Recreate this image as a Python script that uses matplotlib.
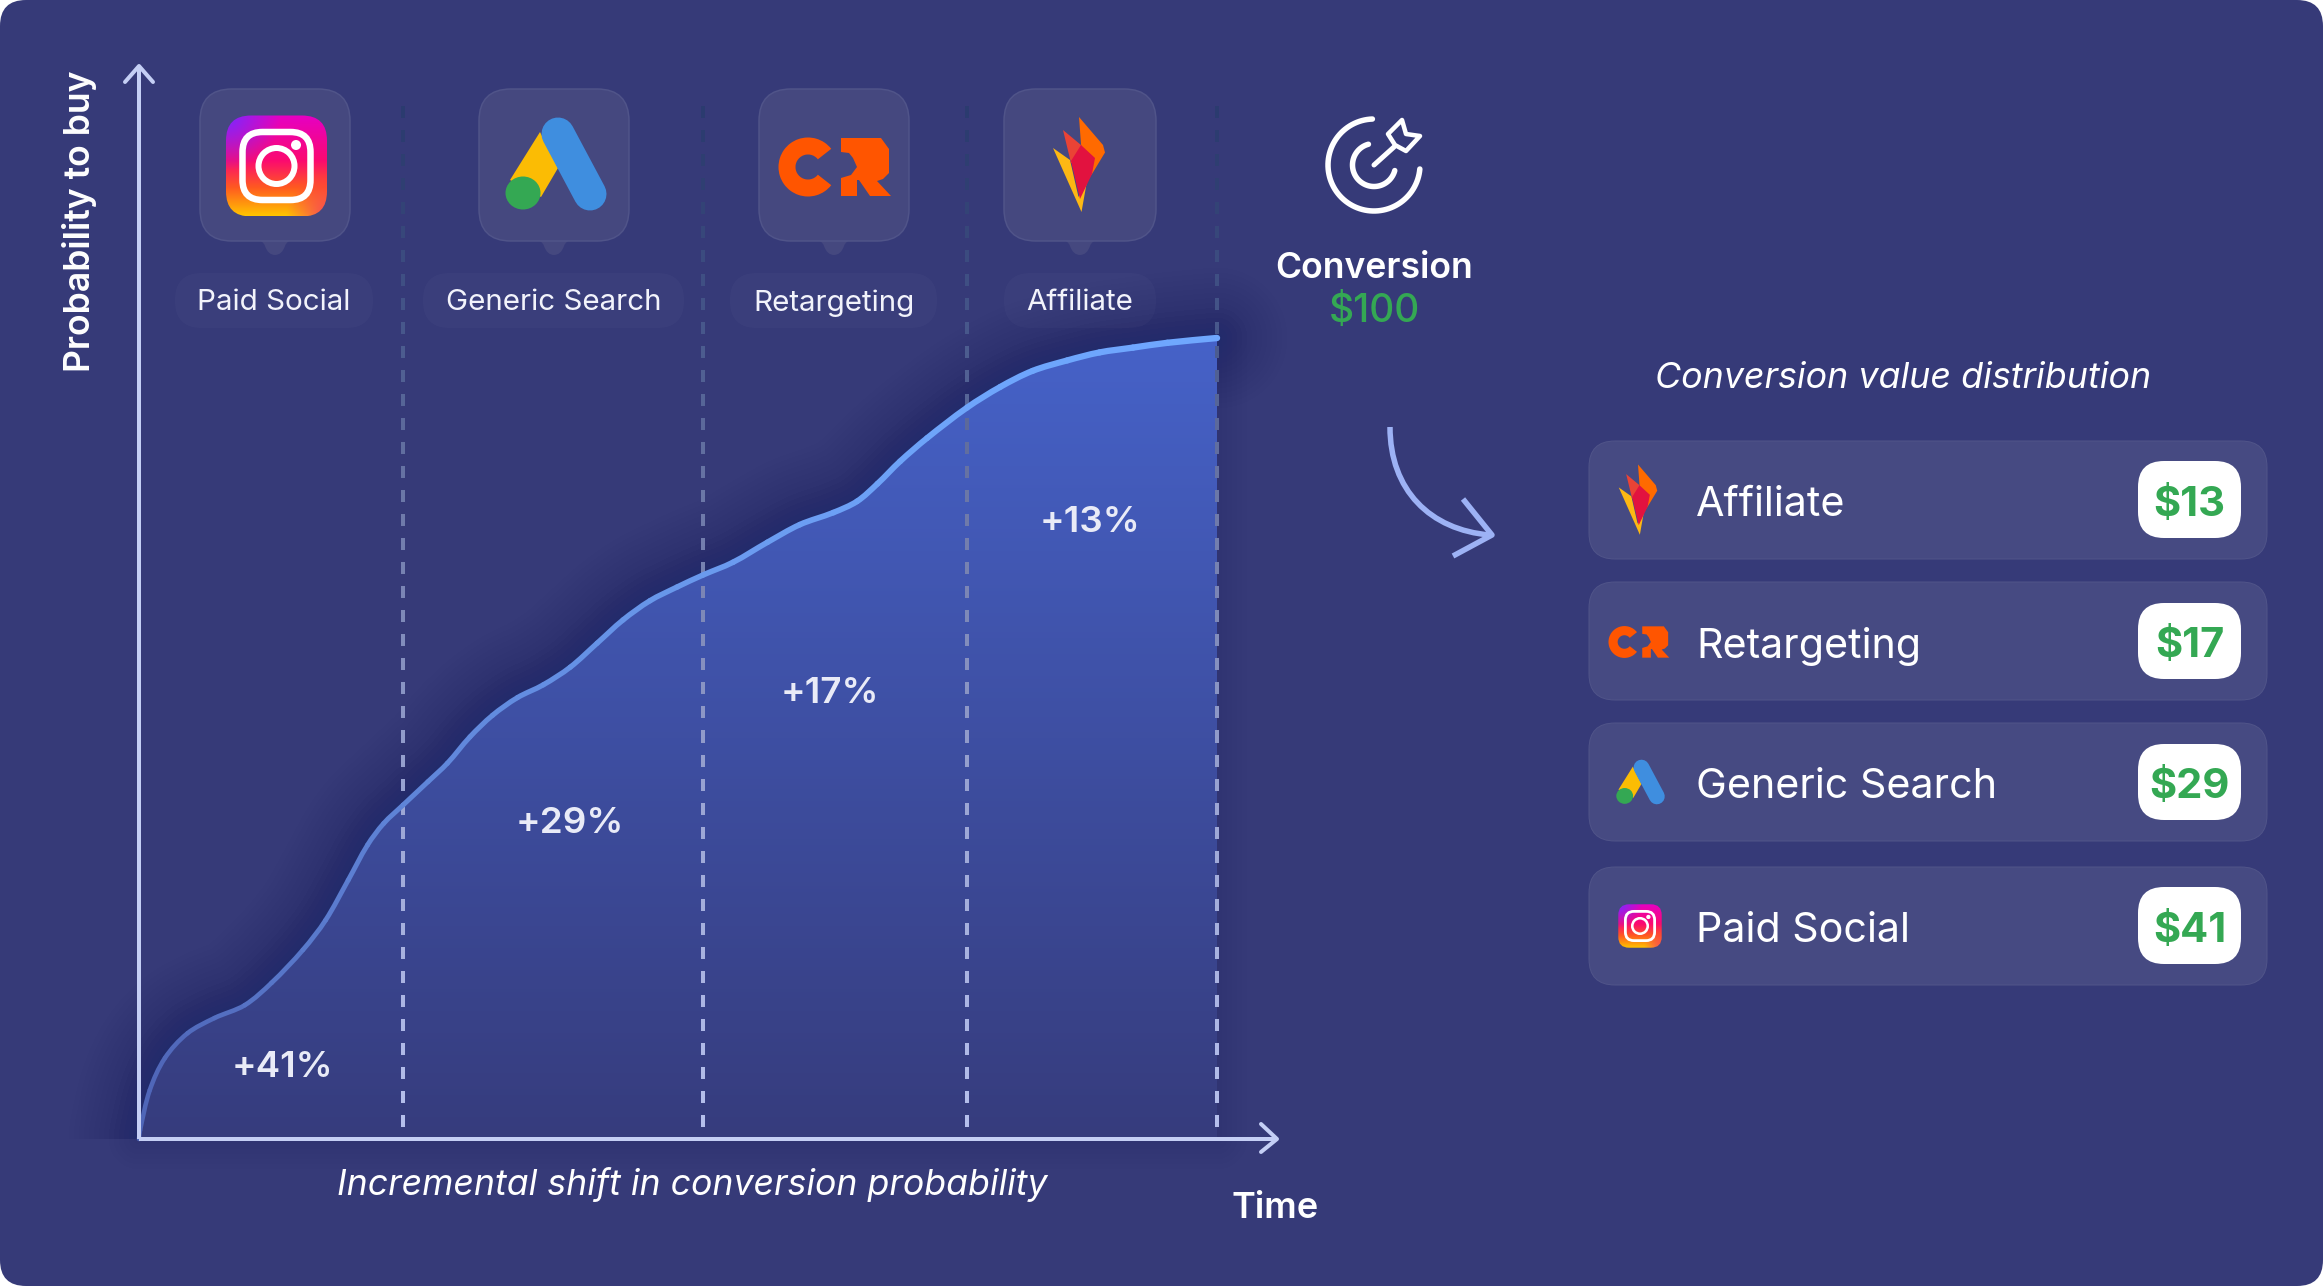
import numpy as np
import matplotlib
matplotlib.use('Agg')
import matplotlib.pyplot as plt
import matplotlib.colors as mcolors
from matplotlib.collections import LineCollection
from matplotlib.patches import Circle, Ellipse, FancyBboxPatch, PathPatch, Polygon, Rectangle, Wedge
from matplotlib.path import Path

W, H = 2323, 1286
DPI = 100

plt.rcParams['font.family'] = ['Inter', 'Noto Sans', 'DejaVu Sans']

# data
time_pct = [0, 0.1, 1.0, 2.4, 4.5, 7.0, 9.8, 12.3, 15.2, 17.3, 19.4, 21.2, 22.7, 24.5, 26.8, 28.6, 30.7, 32.8,
            35.1, 37.5, 40.0, 42.5, 44.9, 47.4, 49.9, 52.3, 55.1, 58.3, 61.3, 64.4, 66.6, 68.5, 70.6, 73.1,
            76.8, 79.9, 82.9, 86.1, 89.1, 92.2, 95.4, 100]
prob_pct = [0, 1.1, 6.1, 10.1, 13.2, 15.1, 16.7, 19.5, 23.6, 27.3, 32.3, 36.7, 39.4, 41.7, 44.6, 46.9, 50.2, 52.9,
            55.1, 56.7, 58.9, 61.9, 64.8, 67.2, 68.9, 70.4, 72.0, 74.5, 76.7, 78.2, 79.6, 81.8, 84.6, 87.5,
            91.3, 93.9, 95.9, 97.2, 98.2, 98.8, 99.4, 100]
divider_time = [24.5, 52.3, 76.8, 100]

touchpoints = ['Paid Social', 'Generic Search', 'Retargeting', 'Affiliate']
shift_labels = ['+41%', '+29%', '+17%', '+13%']
shift_time = [13.3, 40.0, 64.1, 88.2]
shift_prob = [8.95, 39.45, 55.65, 76.95]

dist_channels = ['Affiliate', 'Retargeting', 'Generic Search', 'Paid Social']
dist_values = [13, 17, 29, 41]

BG = '#363a78'
CARD = '#45487f'
CARD_EDGE = '#505489'
ROW = '#464a82'
GREEN = '#34a853'
AXIS = '#c5cff5'
ARROW = '#9db2f5'
ORANGE_CR = '#ff5500'


def px(v):
    return v * 72 / DPI


def rounded(ax, x0, y0, x1, y1, r, **kw):
    p = FancyBboxPatch((x0, y0), x1 - x0, y1 - y0, boxstyle=f'round,pad=0,rounding_size={r}', **kw)
    ax.add_patch(p)
    return p


def smooth_path(xs, ys):
    # spline through the points with chord length tangents, one cubic per pair of points
    pts = np.column_stack([xs, ys])
    d = np.hypot(*np.diff(pts, axis=0).T)
    tang = np.zeros_like(pts)
    tang[0] = (pts[1] - pts[0]) / d[0]
    tang[-1] = (pts[-1] - pts[-2]) / d[-1]
    for i in range(1, len(pts) - 1):
        tang[i] = (pts[i + 1] - pts[i - 1]) / (d[i - 1] + d[i])
    segs = []
    for i in range(len(pts) - 1):
        segs.append((pts[i], pts[i] + tang[i] * d[i] / 3, pts[i + 1] - tang[i + 1] * d[i] / 3, pts[i + 1]))
    return segs


def mix(stops_x, stops_c, x):
    rgb = np.array([mcolors.to_rgb(c) for c in stops_c])
    return np.stack([np.interp(x, stops_x, rgb[:, k]) for k in range(3)], axis=-1)


def draw_instagram(ax, cx, cy, s, z=5):
    half = 50.5 * s
    n = 120
    yy, xx = np.mgrid[0:1:n * 1j, 0:1:n * 1j]
    img = mix([0, 0.45, 0.72, 1], ['#e600c4', '#fb0a70', '#ff5a20', '#ffc400'], yy)
    w = np.clip(1 - np.hypot(xx, yy) / 0.55, 0, 1)[..., None]
    img = img * (1 - w) + np.array(mcolors.to_rgb('#7a28ff')) * w
    w = np.clip(1 - np.hypot(xx - 1, yy - 1) / 0.4, 0, 1)[..., None] * 0.7
    img = img * (1 - w) + np.array(mcolors.to_rgb('#f5157a')) * w
    im = ax.imshow(img, extent=(cx - half, cx + half, cy + half, cy - half), aspect='auto', zorder=z, interpolation='bilinear')
    clip = rounded(ax, cx - half, cy - half, cx + half, cy + half, 25 * s, fc='none', ec='none', zorder=z)
    im.set_clip_path(clip)
    rounded(ax, cx - 34 * s, cy - 34 * s, cx + 34 * s, cy + 34 * s, 20 * s, fc='none', ec='white', lw=px(6.5 * s), zorder=z + 1)
    ax.add_patch(Circle((cx, cy), 18 * s, fc='none', ec='white', lw=px(6 * s), zorder=z + 1))
    ax.add_patch(Circle((cx + 19.5 * s, cy - 21 * s), 5 * s, fc='white', ec='none', zorder=z + 1))


def draw_ads(ax, cx, cy, s, z=5):
    ax.add_patch(Polygon([(cx - 17 * s, cy - 32 * s), (cx + 1 * s, cy + 4 * s), (cx - 16 * s, cy + 33 * s), (cx - 47 * s, cy + 16 * s)],
                         fc='#fbbc04', ec='none', zorder=z))
    ax.plot([cx + 1 * s, cx + 33 * s], [cy - 30 * s, cy + 30 * s], color='#3f8edf', lw=px(33 * s), solid_capstyle='round', zorder=z + 1)
    ax.add_patch(Ellipse((cx - 34 * s, cy + 29 * s), 35 * s, 33 * s, fc='#34a853', ec='none', zorder=z + 2))


def draw_cr(ax, cx, cy, s, z=5):
    ax.add_patch(Wedge((cx - 27 * s, cy), 29.5 * s, 38, 322, width=17 * s, fc=ORANGE_CR, ec='none', zorder=z))
    r_pts = [(6, -29), (30, -29), (46, -29), (54, -18), (54, -4), (54, 6), (48, 12), (42, 14), (56, 29), (35, 29),
             (24, 13), (22, 13), (22, 29), (6, 29), (6, 11), (16, 8), (22, 0), (18, -9), (14, -14), (6, -15)]
    ax.add_patch(Polygon([(cx + a * s, cy + b * s) for a, b in r_pts], fc=ORANGE_CR, ec='none', joinstyle='round', zorder=z))


def draw_flame(ax, cx, cy, s, z=5):
    shapes = [
        ('#fdb813', [(-26, -17), (-9, -5), (-0.5, 32), (8, 16), (2.5, 47)]),
        ('#ff6a00', [(0, -48), (24, -20), (26, -12.5), (13, 9), (8, 16), (2, -21)]),
        ('#ea4335', [(-16, -35), (2, -20), (3, -2), (-8, -2)]),
        ('#e2123f', [(-8, -4), (2, -20), (16, -7), (13, 9), (1, 34)]),
    ]
    for col, pts in shapes:
        ax.add_patch(Polygon([(cx + a * s, cy + b * s) for a, b in pts], fc=col, ec='none', zorder=z))


def screen_arc(ax, cx, cy, r, a0, a1, lw):
    # angles as seen on screen, the pixel axes run downwards
    a = np.radians(np.linspace(a0, a1, 80))
    ax.plot(cx + r * np.cos(a), cy - r * np.sin(a), color='white', lw=px(lw), solid_capstyle='round', zorder=4)


ICONS = {'Paid Social': draw_instagram, 'Generic Search': draw_ads, 'Retargeting': draw_cr, 'Affiliate': draw_flame}

fig = plt.figure(figsize=(W / DPI, H / DPI), dpi=DPI, facecolor='white')

ax_bg = fig.add_axes([0, 0, 1, 1], zorder=0)
ax_bg.set_xlim(0, W)
ax_bg.set_ylim(H, 0)
ax_bg.axis('off')
rounded(ax_bg, 0, 0, W, H, 26, fc=BG, ec='none')

# chart axes: 0-100 on both sides, the curve ends in the top right corner
chart = fig.add_axes([139 / W, 1 - 1139 / H, 1078 / W, 801 / H], zorder=1)
chart.set_xlim(0, 100)
chart.set_ylim(0, 100)
chart.axis('off')
chart.patch.set_alpha(0)

segs = smooth_path(time_pct, prob_pct)
verts = [segs[0][0]]
codes = [Path.MOVETO]
for s in segs:
    verts += [s[1], s[2], s[3]]
    codes += [Path.CURVE4] * 3
top_line = Path(verts, codes)
verts += [(100, 0), (0, 0), (0, 0)]
codes += [Path.LINETO, Path.LINETO, Path.CLOSEPOLY]
area = Path(verts, codes)

# dark glow, mostly over the curve and only a trace round the rest of the area
glow_box = Rectangle((-7, 0), 120, 125, transform=chart.transData)
for w in np.linspace(140, 10, 14):
    glow = PathPatch(top_line, fc='none', ec='#1f2b6b', lw=px(w), alpha=0.045, capstyle='round', zorder=1)
    chart.add_patch(glow)
    glow.set_clip_path(glow_box)
for w in np.linspace(60, 10, 6):
    chart.add_patch(PathPatch(area, fc='none', ec='#1f2b6b', lw=px(w), alpha=0.025, joinstyle='round', clip_on=False, zorder=1))

grad = mix([0, 1], ['#363c7d', '#4662c8'], np.linspace(1, 0, 256))[:, None, :]
im = chart.imshow(grad, extent=(0, 100, 0, 100), aspect='auto', zorder=2)
im.set_clip_path(PathPatch(area, transform=chart.transData))

# dashed dividers, dark at the top and light at the axis
tops = np.arange(0, 132, 3.0)
bottoms = np.maximum(tops - 1.5, 0)
tops = np.minimum(tops, 131)
dash_col = mix([0, 42, 80, 100, 120, 131], ['#b7c1ee', '#9ca6d4', '#6d78a8', '#4a5a8e', '#2f3f72', '#2a3a6e'], tops)
for t in divider_time:
    lines = [[(t, b), (t, a)] for a, b in zip(tops, bottoms)]
    chart.add_collection(LineCollection(lines, colors=dash_col, linewidths=px(4), capstyle='butt', clip_on=False, zorder=3))

# curve, one piece per pair of points so the colour can shift along it
for s in segs:
    tm = s[0][0]
    col = mix([0, 24, 52, 76, 100], ['#4f66b8', '#5f85d8', '#6a9aee', '#6ea5fb', '#6fa7ff'], tm)
    width = np.interp(tm, [0, 50, 100], [4.5, 5.5, 6.5])
    chart.add_patch(PathPatch(Path(list(s), [Path.MOVETO, Path.CURVE4, Path.CURVE4, Path.CURVE4]),
                              fc='none', ec=col, lw=px(width), capstyle='round', clip_on=False, zorder=4))

for lab, tx, py in zip(shift_labels, shift_time, shift_prob):
    chart.text(tx, py, lab, color='#e9ebf7', fontsize=26.5, fontweight=600, ha='center', va='center', zorder=5)

# overlay in picture pixels for the axes arrows, cards and the table
ax = fig.add_axes([0, 0, 1, 1], zorder=2)
ax.set_xlim(0, W)
ax.set_ylim(H, 0)
ax.axis('off')
ax.patch.set_alpha(0)
ax.set_autoscale_on(False)

ax.plot([139, 139], [1139, 66], color=AXIS, lw=px(4), solid_capstyle='butt')
ax.plot([139, 1276], [1139, 1139], color=AXIS, lw=px(4), solid_capstyle='butt')
ax.plot([125, 139, 153], [82, 66, 82], color=AXIS, lw=px(4), solid_capstyle='round', solid_joinstyle='round')
ax.plot([1261, 1277, 1261], [1124, 1139, 1152], color=AXIS, lw=px(4), solid_capstyle='round', solid_joinstyle='round')

ax.text(80, 221, 'Probability to buy', color='white', fontsize=25.6, fontweight=600, rotation=90, ha='center', va='center')
ax.text(692, 1185, 'Incremental shift in conversion probability', color='white', fontsize=25.7, fontstyle='italic', ha='center', va='center')
ax.text(1275, 1208, 'Time', color='white', fontsize=26, fontweight=600, ha='center', va='center')

# touchpoint cards
card_x = [(200, 350), (479, 629), (759, 909), (1004, 1156)]
pill_x = [(175, 373), (423, 684), (730, 937), (1004, 1156)]
icon_center = [(276.5, 166), (557, 164), (835, 167), (1079, 165)]
for name, (x0, x1), (p0, p1), (ix, iy) in zip(touchpoints, card_x, pill_x, icon_center):
    cx = (x0 + x1) / 2
    tail = Path([(cx - 20, 240), (cx - 12, 240), (cx - 10, 246), (cx - 7, 255), (cx, 255), (cx + 7, 255), (cx + 10, 246), (cx + 12, 240), (cx + 20, 240), (cx - 20, 240)],
                [Path.MOVETO, Path.CURVE3, Path.CURVE3, Path.CURVE3, Path.CURVE3, Path.CURVE3, Path.CURVE3, Path.CURVE3, Path.CURVE3, Path.CLOSEPOLY])
    ax.add_patch(PathPatch(tail, fc=CARD, ec='none', zorder=2))
    rounded(ax, x0, 89, x1, 241, 32, fc=CARD, ec=CARD_EDGE, lw=px(1.5), zorder=3)
    rounded(ax, p0, 273, p1, 328, 27, fc=(1, 1, 1, 0.025), ec='none', zorder=3)
    ax.text((p0 + p1) / 2, 303, name, color='#f2f3fb', fontsize=21.3, ha='center', va='center', zorder=4)
    ICONS[name](ax, ix, iy, 1.0)

# conversion block
screen_arc(ax, 1374, 165, 46, 92, 355, 5.5)
screen_arc(ax, 1374, 165, 21.5, 105, 345, 5.5)
ax.plot([1374, 1394], [165, 147], color='white', lw=px(5), solid_capstyle='round', zorder=4)
ax.add_patch(Polygon([(1402, 120), (1406, 134), (1420, 136), (1406, 151), (1395, 145), (1388, 134)], fc='none', ec='white',
                     lw=px(4.5), joinstyle='round', zorder=4))
ax.text(1374, 268, 'Conversion', color='white', fontsize=25.6, fontweight=600, ha='center', va='center')
ax.text(1374, 312, '$100', color=GREEN, fontsize=28, fontweight=500, ha='center', va='center')

curve = Path([(1390, 427), (1390, 490), (1430, 530), (1490, 535)], [Path.MOVETO, Path.CURVE4, Path.CURVE4, Path.CURVE4])
ax.add_patch(PathPatch(curve, fc='none', ec=ARROW, lw=px(5.5), capstyle='butt'))
ax.plot([1463, 1492, 1453], [499, 535, 556], color=ARROW, lw=px(5.5), solid_capstyle='butt', solid_joinstyle='round')

# distribution table
ax.text(1903, 378, 'Conversion value distribution', color='white', fontsize=25.8, fontstyle='italic', ha='center', va='center')

row_y = [(441, 559), (582, 700), (723, 841), (867, 985)]
badge_y = [(461, 538), (603, 679), (744, 820), (887, 964)]
small_center = [(1638, 500), (1639, 642), (1641, 782), (1640, 926)]
small_scale = [0.74, 0.54, 0.48, 0.43]
for name, val, (y0, y1), (b0, b1), (ix, iy), sc in zip(dist_channels, dist_values, row_y, badge_y, small_center, small_scale):
    rounded(ax, 1589, y0, 2267, y1, 26, fc=ROW, ec=CARD_EDGE, lw=px(1), zorder=2)
    ax.text(1696, (y0 + y1) / 2 + 5, name, color='white', fontsize=29.7, ha='left', va='center', zorder=4)
    rounded(ax, 2138, b0, 2241, b1, 26, fc='white', ec='none', zorder=3)
    ax.text((2138 + 2241) / 2, (b0 + b1) / 2 + 5, f'${val}', color=GREEN, fontsize=30, fontweight=700, ha='center', va='center', zorder=4)
    ICONS[name](ax, ix, iy, sc)

fig.savefig('out.png', dpi=DPI, facecolor='white')
